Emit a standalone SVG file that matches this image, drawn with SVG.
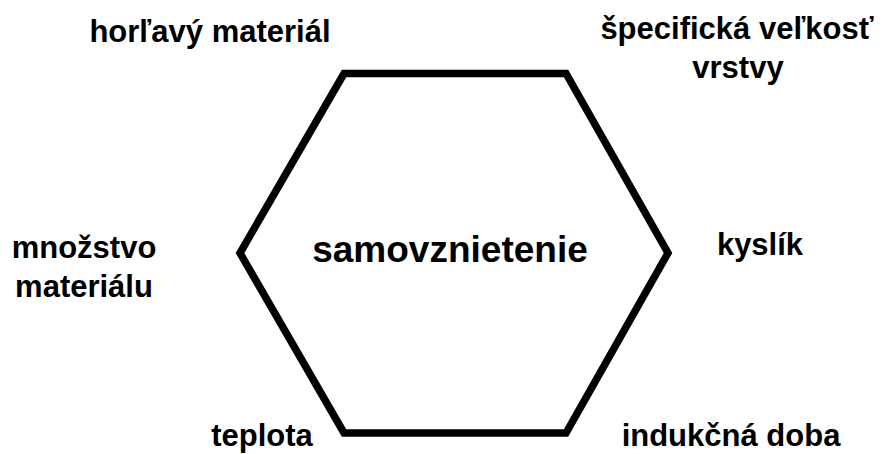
<svg xmlns="http://www.w3.org/2000/svg" width="882" height="454" viewBox="0 0 882 454">
<style>
.lbl{font-family:"Liberation Sans",Arial,sans-serif;font-weight:bold;font-size:31px;fill:#000;text-anchor:middle}
.main{font-size:37px}
.hex{fill:none;stroke:#000;stroke-width:7.5;stroke-linejoin:miter}
</style>
<rect width="882" height="454" fill="#fff"/>
<g id="hexagon">
<polygon class="hex" points="344,73.5 566,73.5 668,253 566,433 344,433 240,253"/>
<text class="lbl main" x="450" y="262">samovznietenie</text>
</g>
<g id="connectors"/>
<g id="n-horlavy"><text class="lbl" x="210" y="42">horľavý materiál</text></g>
<g id="n-specificka"><text class="lbl" x="737" y="39">špecifická veľkosť</text><text class="lbl" x="738" y="78">vrstvy</text></g>
<g id="n-mnozstvo"><text class="lbl" x="84" y="258">množstvo</text><text class="lbl" x="84" y="297">materiálu</text></g>
<g id="n-kyslik"><text class="lbl" x="760" y="255">kyslík</text></g>
<g id="n-teplota"><text class="lbl" x="262" y="446">teplota</text></g>
<g id="n-indukcna"><text class="lbl" x="731" y="446">indukčná doba</text></g>
</svg>
